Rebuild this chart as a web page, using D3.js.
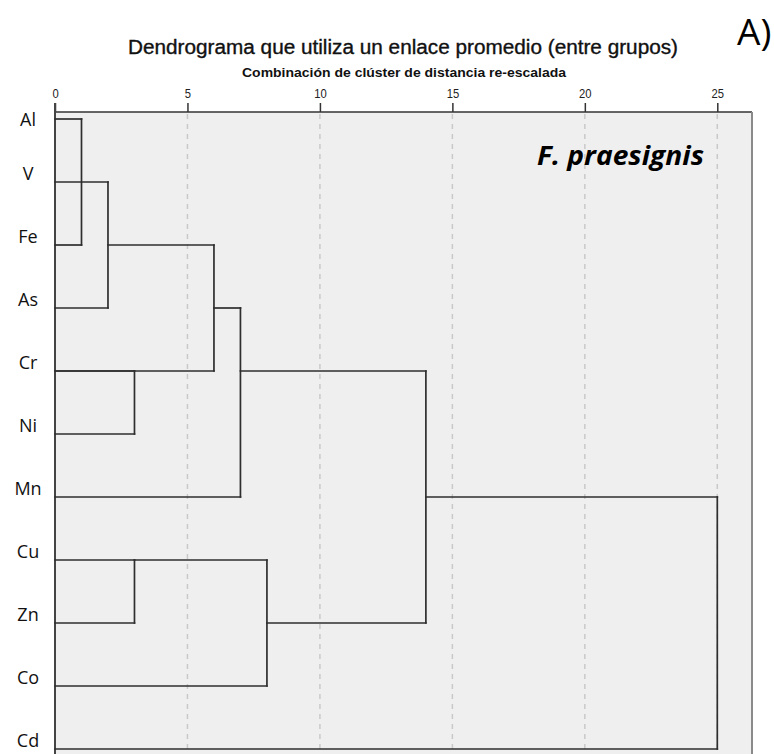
<!DOCTYPE html>
<html>
<head>
<meta charset="utf-8">
<script src="https://cdn.jsdelivr.net/npm/d3@7"></script>
<style>
  body { margin: 0; background: #fff; }
</style>
</head>
<body>
<div id="container"></div>
<script>
/* DATA */
const leaves = ["Al", "V", "Fe", "As", "Cr", "Ni", "Mn", "Cu", "Zn", "Co", "Cd"];
const ticks = [0, 5, 10, 15, 20, 25];
// each merge: vertical at distance d between rows a and b,
// horizontal on row a from fromA to d and on row b from fromB to d
const merges = [
  { a: "Al", b: "Fe", d: 1, fromA: 0, fromB: 0 },
  { a: "V",  b: "As", d: 2, fromA: 0, fromB: 0 },
  { a: "Cr", b: "Ni", d: 3, fromA: 0, fromB: 0 },
  { a: "Cu", b: "Zn", d: 3, fromA: 0, fromB: 0 },
  { a: "Fe", b: "Cr", d: 6, fromA: 2, fromB: 0 },
  { a: "As", b: "Mn", d: 7, fromA: 6, fromB: 0 },
  { a: "Cu", b: "Co", d: 8, fromA: 3, fromB: 0 },
  { a: "Cr", b: "Zn", d: 14, fromA: 7, fromB: 8 },
  { a: "Mn", b: "Cd", d: 25, fromA: 14, fromB: 0 }
];
const title = "Dendrograma que utiliza un enlace promedio (entre grupos)";
const subtitle = "Combinación de clúster de distancia re-escalada";
const species = "F. praesignis";
const panel = "A)";

/* CONSTANTS */
const width = 774,
  height = 754,
  plot = { left: 55, top: 112, right: 752, bottom: 760 };

const svg = d3.select("#container").append("svg")
  .attr("width", width)
  .attr("height", height);

const xScale = d3.scaleLinear()
  .domain([0, 25])
  .range([55, 717.3]);

const yScale = d3.scalePoint()
  .domain(leaves)
  .range([119, 749]);

// plot background
svg.append("rect")
  .attr("x", plot.left)
  .attr("y", plot.top)
  .attr("width", plot.right - plot.left)
  .attr("height", plot.bottom - plot.top)
  .attr("fill", "#efefef");

// dashed grid
svg.selectAll(".grid")
  .data(ticks.filter(t => t > 0))
  .join("line")
  .attr("class", "grid")
  .attr("x1", d => xScale(d))
  .attr("x2", d => xScale(d))
  .attr("y1", plot.top + 2)
  .attr("y2", plot.bottom)
  .attr("stroke", "#c9c9c9")
  .attr("stroke-width", 1.5)
  .attr("stroke-dasharray", "5,5");

// top axis
const xAxis = d3.axisTop(xScale)
  .tickValues(ticks)
  .tickSize(9)
  .tickPadding(5)
  .tickSizeOuter(0);

const axisG = svg.append("g")
  .attr("class", "x-axis")
  .attr("transform", `translate(0,${plot.top})`)
  .call(xAxis);
axisG.select(".domain").remove();
axisG.selectAll(".tick line").attr("stroke", "#333").attr("stroke-width", 1.5);
axisG.selectAll(".tick text")
  .attr("font-family", "'Liberation Sans', Arial, sans-serif")
  .attr("font-size", 12.5)
  .attr("fill", "#222")
  .attr("transform", "scale(0.9,1)")
  .attr("x", function() { return 0; });

// frame
svg.append("line")
  .attr("x1", plot.left).attr("x2", plot.right)
  .attr("y1", plot.top).attr("y2", plot.top)
  .attr("stroke", "#333").attr("stroke-width", 1.5);
svg.append("line")
  .attr("x1", plot.right).attr("x2", plot.right)
  .attr("y1", plot.top).attr("y2", plot.bottom)
  .attr("stroke", "#8a8a8a").attr("stroke-width", 2);
svg.append("line")
  .attr("x1", plot.left).attr("x2", plot.left)
  .attr("y1", plot.top - 9).attr("y2", plot.bottom)
  .attr("stroke", "#444").attr("stroke-width", 2);

// dendrogram segments
const segs = [];
merges.forEach(m => {
  segs.push({ x1: m.fromA, x2: m.d, y1: m.a, y2: m.a });
  segs.push({ x1: m.fromB, x2: m.d, y1: m.b, y2: m.b });
  segs.push({ x1: m.d, x2: m.d, y1: m.a, y2: m.b });
});

svg.selectAll(".link")
  .data(segs)
  .join("line")
  .attr("class", "link")
  .attr("x1", d => xScale(d.x1))
  .attr("x2", d => xScale(d.x2))
  .attr("y1", d => yScale(d.y1))
  .attr("y2", d => yScale(d.y2))
  .attr("stroke", "#2e2e2e")
  .attr("stroke-width", 1.7)
  .attr("stroke-linecap", "square");

// leaf labels
svg.selectAll(".leaf")
  .data(leaves)
  .join("text")
  .attr("class", "leaf")
  .attr("x", 28)
  .attr("y", d => Math.max(yScale(d) - 2, 126))
  .attr("text-anchor", "middle")
  .attr("font-family", "'Open Sans', 'Noto Sans', sans-serif")
  .attr("font-size", 18)
  .attr("fill", "#111")
  .text(d => d);

// titles
svg.append("text")
  .attr("x", 128).attr("y", 53.5)
  .attr("textLength", 550)
  .attr("lengthAdjust", "spacingAndGlyphs")
  .attr("font-family", "'Liberation Sans', Arial, sans-serif")
  .attr("font-size", 19.5)
  .attr("fill", "#111")
  .attr("stroke", "#111")
  .attr("stroke-width", 0.35)
  .text(title);

svg.append("text")
  .attr("x", 242).attr("y", 76.5)
  .attr("textLength", 324)
  .attr("lengthAdjust", "spacingAndGlyphs")
  .attr("font-family", "'Liberation Sans', Arial, sans-serif")
  .attr("font-weight", "bold")
  .attr("font-size", 13)
  .attr("fill", "#111")
  .text(subtitle);

svg.append("text")
  .attr("x", 537).attr("y", 165)
  .attr("textLength", 167)
  .attr("lengthAdjust", "spacingAndGlyphs")
  .attr("font-family", "'Open Sans', 'Noto Sans', sans-serif")
  .attr("font-weight", "bold")
  .attr("font-style", "italic")
  .attr("font-size", 27)
  .attr("fill", "#000")
  .text(species);

svg.append("text")
  .attr("x", 737).attr("y", 45)
  .attr("font-family", "'Open Sans', 'Noto Sans', sans-serif")
  .attr("font-size", 37)
  .attr("fill", "#000")
  .text(panel);
</script>
</body>
</html>
